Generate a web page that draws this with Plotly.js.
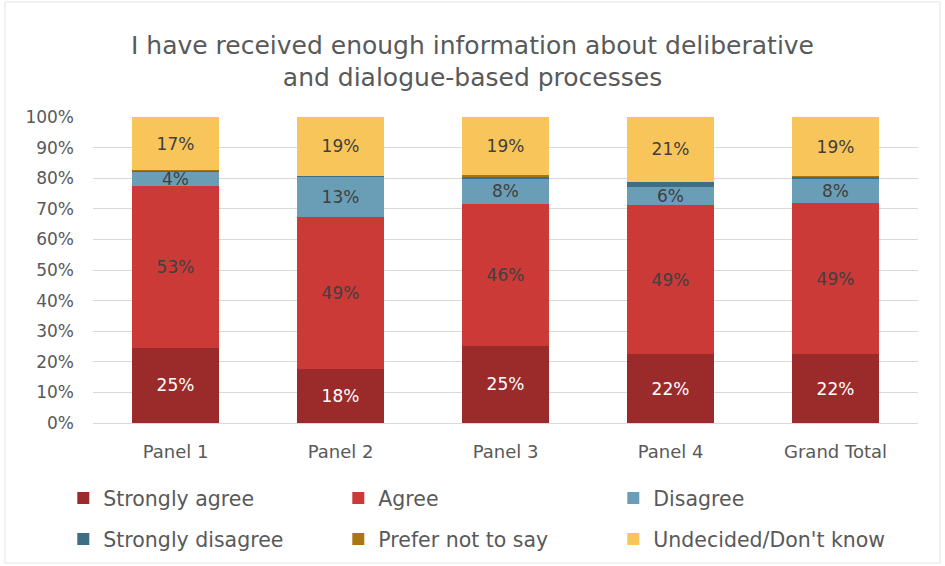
<!DOCTYPE html>
<html><head><meta charset="utf-8">
<script src="https://cdn.plot.ly/plotly-3.0.1.min.js"></script>
<style>html,body{margin:0;padding:0;background:#fff}#c{width:945px;height:566px}</style>
</head><body><div id="c"></div>
<script>
const categories = ["Panel 1", "Panel 2", "Panel 3", "Panel 4", "Grand Total"];
const stronglyAgree = [24.6, 17.8, 25.3, 22.4, 22.4];
const agree = [53.0, 49.4, 46.3, 48.8, 49.4];
const disagree = [4.4, 13.3, 8.2, 5.9, 7.8];
const stronglyDisagree = [0.5, 0.3, 0.7, 1.5, 0.7];
const preferNotToSay = [0.1, 0.0, 0.7, 0.3, 0.3];
const undecided = [17.4, 19.2, 18.8, 21.1, 19.4];
const seriesNames = ["Strongly agree", "Agree", "Disagree", "Strongly disagree", "Prefer not to say", "Undecided/Don't know"];
const seriesValues = [stronglyAgree, agree, disagree, stronglyDisagree, preferNotToSay, undecided];
const colors = ["#9B2B2A", "#CB3A37", "#6A9EB6", "#3E6D86", "#A9770F", "#F8C55B"];
const showLabels = [true, true, true, false, false, true];
const labelColors = ["#FFFFFF", "#404040", "#404040", "#404040", "#404040", "#404040"];
const legendGroups = ["legend", "legend", "legend", "legend2", "legend2", "legend2"];

const FONT = "'DejaVu Sans', sans-serif";
const traces = seriesNames.map((name, i) => ({
  type: "bar",
  name: name,
  x: categories,
  y: seriesValues[i],
  legend: legendGroups[i],
  marker: {color: colors[i], line: {width: 0}},
  text: showLabels[i] ? seriesValues[i].map(v => Math.round(v) + "%") : null,
  textposition: showLabels[i] ? "inside" : "none",
  insidetextanchor: "middle",
  constraintext: "none",
  textfont: {family: FONT, size: 17, color: labelColors[i]},
  hoverinfo: "skip"
}));

const legendCommon = {
  orientation: "h",
  traceorder: "normal",
  x: -0.036, xanchor: "left",
  yanchor: "top",
  entrywidth: 230, entrywidthmode: "pixels",
  font: {family: FONT, size: 20.5, color: "#595959"},
  itemwidth: 30,
  bgcolor: "rgba(0,0,0,0)"
};

const layout = {
  width: 945, height: 566,
  barmode: "stack",
  bargap: 0.467,
  paper_bgcolor: "#ffffff",
  plot_bgcolor: "#ffffff",
  margin: {l: 93, r: 27, t: 117, b: 143, pad: 0, autoexpand: false},
  font: {family: FONT, color: "#595959"},
  uniformtext: {mode: "show", minsize: 10},
  title: {
    text: "I have received enough information about deliberative<br>and dialogue-based processes",
    font: {family: FONT, size: 25, color: "#595959"},
    x: 0.5, xanchor: "center", xref: "container",
    y: 0.905, yanchor: "top"
  },
  xaxis: {
    type: "category",
    tickfont: {family: FONT, size: 18, color: "#595959"},
    showgrid: false, zeroline: false,
    showline: true, linecolor: "#D9D9D9", linewidth: 1,
    ticks: "", ticklabelstandoff: 12
  },
  yaxis: {
    range: [0, 100],
    dtick: 10,
    ticksuffix: "%",
    tickfont: {family: FONT, size: 17, color: "#595959"},
    showgrid: true, gridcolor: "#D9D9D9", gridwidth: 1,
    zeroline: false, showline: false, ticks: "",
    ticklabelstandoff: 18
  },
  legend: Object.assign({}, legendCommon, {y: -0.18}),
  legend2: Object.assign({}, legendCommon, {y: -0.314}),
  shapes: [{
    type: "rect", xref: "paper", yref: "paper",
    x0: -0.1067, x1: 1.0267, y0: -0.4575, y1: 1.376,
    line: {color: "#E3E3E3", width: 1}, fillcolor: "rgba(0,0,0,0)", layer: "below"
  }],
  showlegend: true
};

Plotly.newPlot("c", traces, layout, {displayModeBar: false, staticPlot: true});
</script>
</body></html>
